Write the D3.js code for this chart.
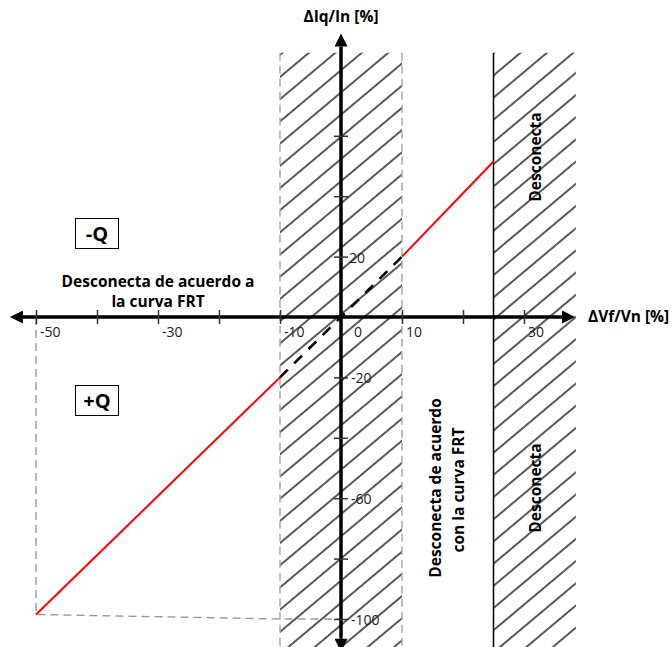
<!DOCTYPE html>
<html><head><meta charset="utf-8">
<script src="https://cdn.jsdelivr.net/npm/d3@7"></script>
<style>body{margin:0;background:#fff}svg{display:block}text{font-family:"Open Sans",Lato,sans-serif}</style>
</head><body><svg id="c" width="672" height="647"></svg>
<script>
// ---- data ----
const xTicks = [-50, -40, -30, -20, -10, 10, 20, 30];
const xTickLabels = [-50, -30, -10, 0, 10, 30];
const yTicks = [60, 40, 20, -20, -40, -60, -80, -100];
const yTickLabels = [20, -20, -60, -100];
const curveV = [-50, -10, 10, 25];
const curveI = [-98.5, -20, 20, 51.5];
const guideV = [-50, -50, -10, 0];
const guideI = [0, -98.5, -100, -100];
const bandFRT = [-10, 10];
const bandDisc = [25, 38.5];
const bandTopI = 87.5;
const axisXExtent = [-54.6, 38.7];
const axisYExtent = [-111.5, 94.5];

// ---- scales ----
const x = d3.scaleLinear().domain([-55, 40]).range([341 - 55 * 6.1, 341 + 40 * 6.1]);
const y = d3.scaleLinear().domain([-110, 95]).range([317 + 110 * 3.02, 317 - 95 * 3.02]);
const svg = d3.select("#c");
const defs = svg.append("defs");

defs.append("pattern").attr("id", "hatch").attr("patternUnits", "userSpaceOnUse")
  .attr("width", 17).attr("height", 17).attr("patternTransform", "rotate(50)")
  .append("line").attr("x1", 1).attr("y1", -1).attr("x2", 1).attr("y2", 18)
  .attr("stroke", "#000").attr("stroke-width", 1.3);

defs.append("marker").attr("id", "arr").attr("viewBox", "0 0 10 10")
  .attr("refX", 0).attr("refY", 5).attr("markerUnits", "userSpaceOnUse")
  .attr("markerWidth", 15).attr("markerHeight", 13).attr("orient", "auto-start-reverse")
  .append("path").attr("d", "M0,0L10,5L0,10Z").attr("fill", "#000");

const yBot = y(axisYExtent[0]), yTop = y(bandTopI);

// hatched bands
[bandFRT, bandDisc].forEach(b => {
  svg.append("rect").attr("x", x(b[0])).attr("y", yTop)
    .attr("width", x(b[1]) - x(b[0])).attr("height", yBot - yTop)
    .attr("fill", "url(#hatch)");
});
// band borders
bandFRT.forEach(v => svg.append("line").attr("x1", x(v)).attr("x2", x(v))
  .attr("y1", yTop).attr("y2", yBot).attr("stroke", "#aaa").attr("stroke-width", 1.5)
  .attr("stroke-dasharray", "8,5"));
svg.append("line").attr("x1", x(bandDisc[0])).attr("x2", x(bandDisc[0]))
  .attr("y1", yTop).attr("y2", yBot).attr("stroke", "#000").attr("stroke-width", 1.5);

// grey guide
svg.append("path").attr("d", d3.line().x((d, i) => x(guideV[i])).y(d => y(d))(guideI))
  .attr("fill", "none").attr("stroke", "#999").attr("stroke-width", 1.4).attr("stroke-dasharray", "8,5");

// curve
const seg = (i, j) => d3.line().x(d => x(d[0])).y(d => y(d[1]))([[curveV[i], curveI[i]], [curveV[j], curveI[j]]]);
svg.append("path").attr("d", seg(0, 1)).attr("stroke", "#f00").attr("stroke-width", 2).attr("fill", "none");
svg.append("path").attr("d", seg(2, 3)).attr("stroke", "#f00").attr("stroke-width", 2).attr("fill", "none");
svg.append("path").attr("d", seg(1, 2)).attr("stroke", "#000").attr("stroke-width", 2.6)
  .attr("fill", "none").attr("stroke-dasharray", "11,9");

// axes lines
svg.append("line").attr("x1", x(axisXExtent[0]) + 15).attr("x2", x(axisXExtent[1]) - 15)
  .attr("y1", y(0)).attr("y2", y(0)).attr("stroke", "#000").attr("stroke-width", 3.5)
  .attr("marker-start", "url(#arr)").attr("marker-end", "url(#arr)");
svg.append("line").attr("x1", x(0)).attr("x2", x(0))
  .attr("y1", y(axisYExtent[1]) + 15).attr("y2", y(axisYExtent[0]) - 15)
  .attr("stroke", "#000").attr("stroke-width", 3.5)
  .attr("marker-start", "url(#arr)").attr("marker-end", "url(#arr)");

// ticks via d3 axes
const gx = svg.append("g").attr("transform", `translate(0,${y(0) - 7})`)
  .call(d3.axisBottom(x).tickValues(xTicks).tickSize(14).tickFormat(""));
const gy = svg.append("g").attr("transform", `translate(${x(0) - 7},0)`)
  .call(d3.axisRight(y).tickValues(yTicks).tickSize(14).tickFormat(""));
[gx, gy].forEach(g => { g.select(".domain").remove(); g.selectAll("line").attr("stroke", "#333").attr("stroke-width", 1.5); });

// tick labels
svg.append("g").selectAll("text").data(xTickLabels).join("text")
  .attr("x", d => x(d) + (d === 0 ? 13 : 4)).attr("y", y(0) + 20)
  .attr("font-size", 14).attr("fill", "#222").text(d => d);
svg.append("g").selectAll("text").data(yTickLabels).join("text")
  .attr("x", d => x(0) + (d === 20 ? 8 : 10)).attr("y", d => y(d) + 6)
  .attr("font-size", 14).attr("fill", "#222").text(d => d);

// titles
svg.append("text").attr("x", x(0)).attr("y", 22).attr("text-anchor", "middle")
  .attr("font-size", 15.5).attr("font-weight", "bold").text("ΔIq/In [%]");
svg.append("text").attr("x", 588).attr("y", 322)
  .attr("font-size", 15.5).attr("font-weight", "bold").text("ΔVf/Vn [%]");

// Q boxes
[["-Q", 218], ["+Q", 385]].forEach(([t, top]) => {
  svg.append("rect").attr("x", 75.5).attr("y", top + 0.5).attr("width", 43).attr("height", 30)
    .attr("fill", "#fff").attr("stroke", "#000").attr("stroke-width", 1);
  svg.append("text").attr("x", 97).attr("y", top + 23).attr("text-anchor", "middle")
    .attr("font-size", 20).attr("font-weight", "bold").text(t);
});

// annotation texts
const bold = (sel) => sel.attr("font-weight", "bold").attr("font-size", 15.5).attr("text-anchor", "middle");
bold(svg.append("text").attr("x", 158).attr("y", 287)).text("Desconecta de acuerdo a");
bold(svg.append("text").attr("x", 158).attr("y", 307)).text("la curva FRT");
bold(svg.append("text").attr("transform", "translate(441,488) rotate(-90)")).text("Desconecta de acuerdo");
bold(svg.append("text").attr("transform", "translate(464,490) rotate(-90)")).text("con la curva FRT");
bold(svg.append("text").attr("transform", "translate(541,157) rotate(-90)")).text("Desconecta");
bold(svg.append("text").attr("transform", "translate(541,488) rotate(-90)")).text("Desconecta");
</script></body></html>
